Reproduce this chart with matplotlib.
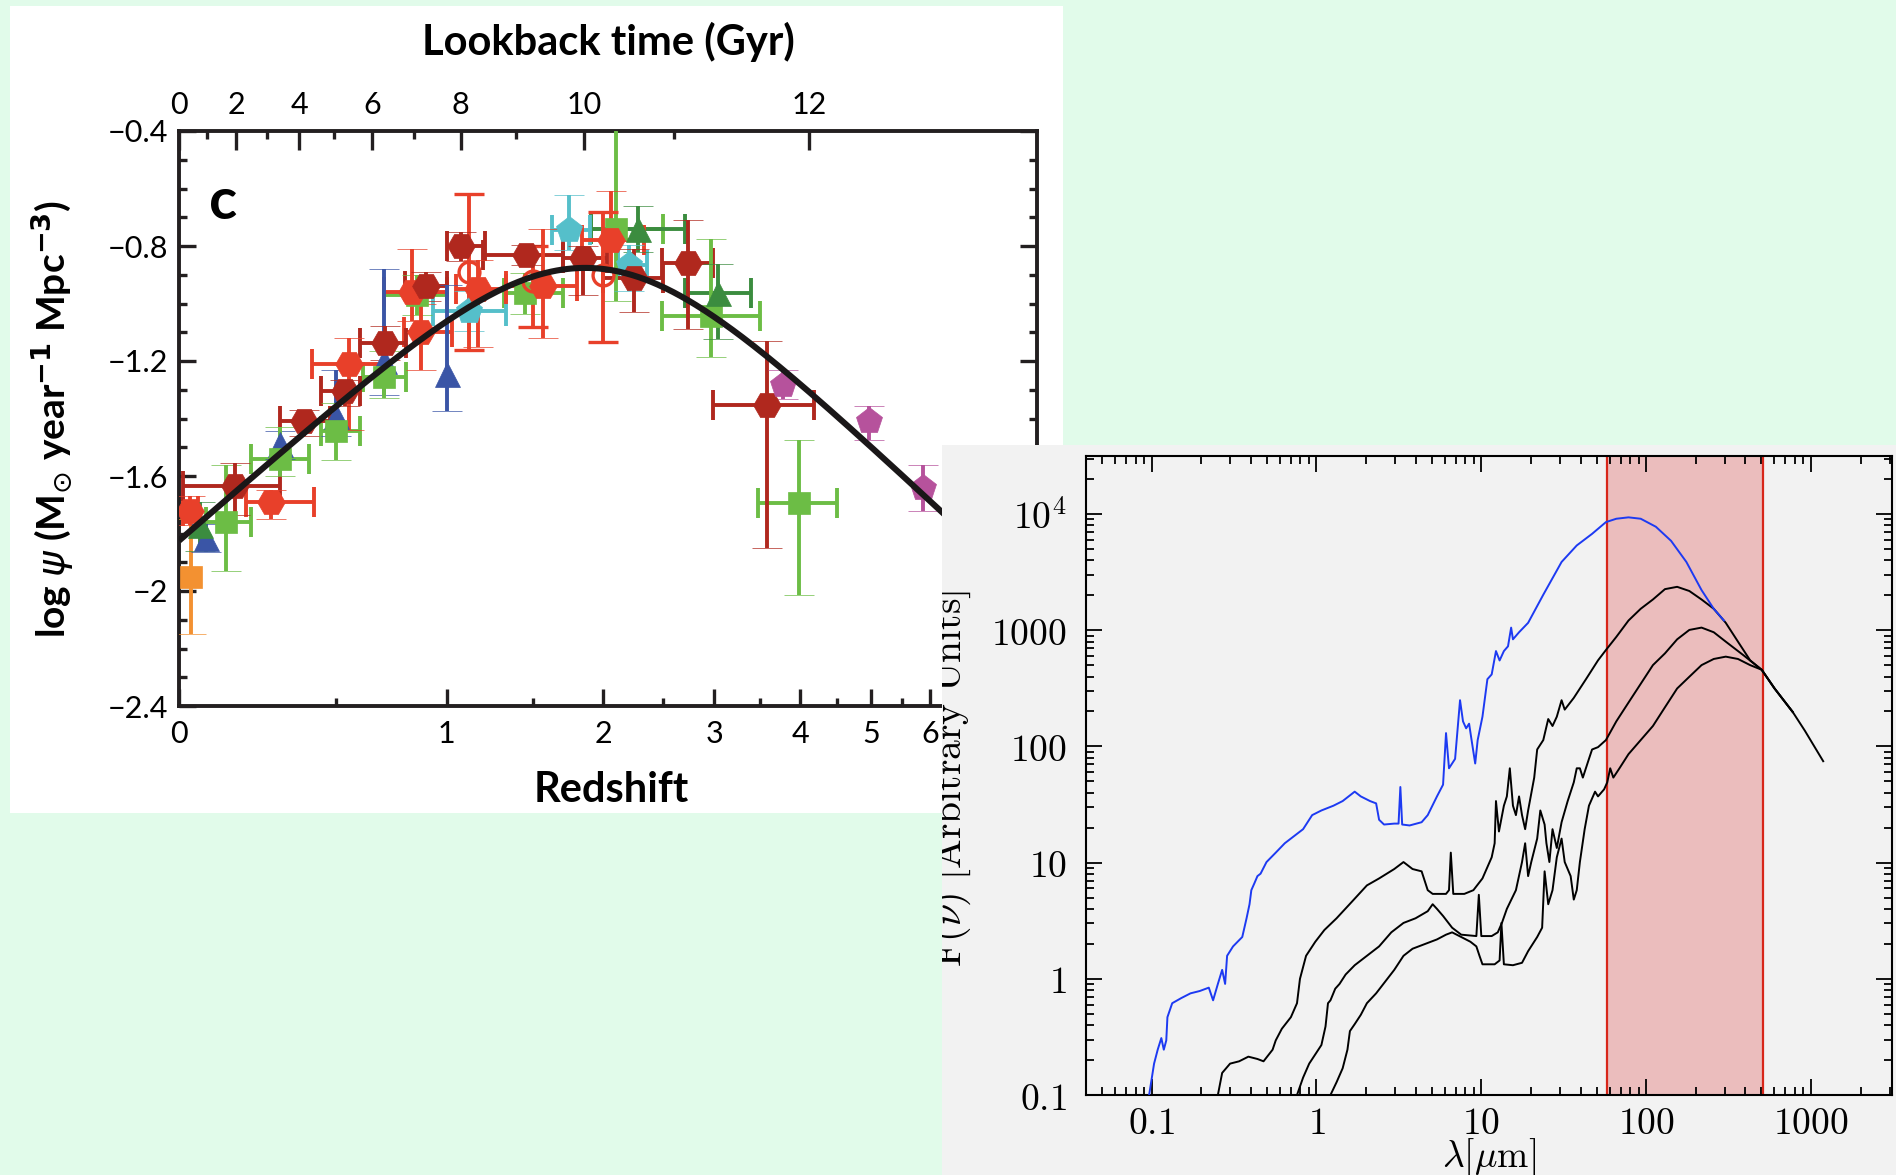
import numpy as np
import matplotlib
matplotlib.use("Agg")
import matplotlib.pyplot as plt
from matplotlib.patches import Rectangle
from matplotlib.ticker import FixedLocator, MultipleLocator, LogLocator, NullFormatter

plt.rcParams['font.family'] = ['Lato', 'DejaVu Sans']
plt.rcParams['mathtext.fontset'] = 'cm'

# ---------------------------------------------------------------------------
# Cosmic star-formation history: log psi (Msun / yr / Mpc^3) per survey
# z = bin centre, zlo/zhi = bin edges, up/dn = asymmetric errors in dex
# ---------------------------------------------------------------------------
red_z = [0.03, 0.27, 0.555, 0.83, 0.87, 1.17, 1.57, 2.06]
red_zlo = [0.01, 0.19, 0.41, 0.70, 0.79, 1.05, 1.33, 1.84]
red_zhi = [0.05, 0.42, 0.71, 1.00, 1.03, 1.33, 1.80, 2.33]
red_psi = [-1.72, -1.69, -1.21, -0.96, -1.10, -0.95, -0.94, -0.78]
red_up = [0.05, 0.04, 0.09, 0.15, 0.10, 0.10, 0.20, 0.17]
red_dn = [0.05, 0.06, 0.23, 0.10, 0.13, 0.20, 0.18, 0.10]

red_open_z = [1.12, 1.50, 2.00]
red_open_psi = [-0.89, -0.92, -0.90]
red_open_up = [0.27, 0.12, 0.22]
red_open_dn = [0.27, 0.16, 0.235]

dkred_z = [0.155, 0.384, 0.536, 0.703, 0.897, 1.078, 1.459, 1.848, 2.25, 2.738, 3.58]
dkred_zlo = [0.01, 0.30, 0.445, 0.60, 0.795, 1.00, 1.20, 1.70, 2.00, 2.49, 2.99]
dkred_zhi = [0.30, 0.477, 0.60, 0.80, 1.00, 1.21, 1.70, 2.03, 2.50, 2.99, 4.18]
dkred_psi = [-1.636, -1.41, -1.306, -1.137, -0.94, -0.801, -0.83, -0.841, -0.911, -0.859, -1.352]
dkred_up = [0.08, 0.04, 0.04, 0.06, 0.05, 0.05, 0.035, 0.04, 0.10, 0.15, 0.22]
dkred_dn = [0.10, 0.05, 0.05, 0.06, 0.05, 0.05, 0.035, 0.13, 0.12, 0.23, 0.50]

green_z = [0.13, 0.30, 0.50, 0.70, 0.85, 1.45, 2.10, 2.97, 3.98]
green_zlo = [0.073, 0.206, 0.445, 0.61, 0.70, 1.32, 1.91, 2.49, 3.48]
green_zhi = [0.206, 0.40, 0.60, 0.80, 1.00, 1.70, 2.50, 3.50, 4.50]
green_psi = [-1.76, -1.54, -1.445, -1.254, -0.97, -0.965, -0.74, -1.045, -1.694]
green_up = [0.20, 0.11, 0.10, 0.09, 0.07, 0.07, 0.40, 0.27, 0.22]
green_dn = [0.17, 0.06, 0.10, 0.075, 0.07, 0.07, 0.25, 0.14, 0.32]

dkgreen_z = [0.055, 2.28, 3.04]
dkgreen_zlo = [0.055, 1.91, 2.71]
dkgreen_zhi = [0.055, 2.71, 3.40]
dkgreen_psi = [-1.77, -0.74, -0.963]
dkgreen_up = [0.08, 0.08, 0.10]
dkgreen_dn = [0.09, 0.08, 0.16]

blue_z = [0.073, 0.30, 0.50, 0.70, 1.00]
blue_psi = [-1.816, -1.49, -1.39, -1.20, -1.244]
blue_up = [0.05, 0.045, 0.16, 0.32, 0.31]
blue_dn = [0.05, 0.05, 0.07, 0.12, 0.13]

cyan_z = [1.12, 1.748, 2.21]
cyan_zlo = [0.93, 1.63, 2.12]
cyan_zhi = [1.33, 1.90, 2.36]
cyan_psi = [-1.027, -0.743, -0.865]
cyan_up = [0.07, 0.12, 0.07]
cyan_dn = [0.07, 0.07, 0.09]

mag_z = [3.78, 4.97, 5.87]
mag_psi = [-1.282, -1.41, -1.642]
mag_up = [0.05, 0.055, 0.08]
mag_dn = [0.05, 0.065, 0.08]

orange_z = [0.032]
orange_psi = [-1.95]
orange_up = [0.20]
orange_dn = [0.20]

# Best-fit double power law psi(z) = a (1+z)^b / (1 + ((1+z)/c)^d)
fit_a, fit_b, fit_c, fit_d = 0.015, 2.7, 2.9, 5.6

# Flat LCDM used for the lookback-time axis
H0, Om = 70.0, 0.3
lookback_major = [0, 2, 4, 6, 8, 10, 12]
lookback_minor = [1, 3, 5, 7, 9, 11, 13]

redshift_major = [0, 1, 2, 3, 4, 5, 6]
redshift_minor = [0.5, 1.5, 2.5, 3.5, 4.5, 5.5]
psi_ticks = [-0.4, -0.8, -1.2, -1.6, -2.0, -2.4]
psi_ticklabels = ['\u22120.4', '\u22120.8', '\u22121.2', '\u22121.6', '\u22122', '\u22122.4']

# ---------------------------------------------------------------------------
# Template SEDs: log10(lambda / micron), log10(F_nu)
# ---------------------------------------------------------------------------
sed_blue_loglam = [-1.015, -0.985, -0.963, -0.941, -0.926, -0.911, -0.904, -0.875, -0.819, -0.764,
                   -0.708, -0.653, -0.627, -0.598, -0.572, -0.554, -0.542, -0.506, -0.450, -0.424,
                   -0.406, -0.395, -0.376, -0.358, -0.339, -0.303, -0.247, -0.192, -0.137, -0.081,
                   -0.026, 0.030, 0.103, 0.159, 0.214, 0.232, 0.269, 0.325, 0.362, 0.380,
                   0.410, 0.472, 0.498, 0.509, 0.520, 0.565, 0.638, 0.675, 0.731, 0.768,
                   0.786, 0.804, 0.841, 0.871, 0.889, 0.908, 0.926, 0.941, 0.963, 0.978,
                   1.007, 1.037, 1.063, 1.089, 1.111, 1.137, 1.162, 1.181, 1.192, 1.229,
                   1.284, 1.376, 1.487, 1.579, 1.672, 1.756, 1.819, 1.893, 1.967, 2.059,
                   2.151, 2.244, 2.336, 2.410, 2.472]
sed_blue_logf = [-1.0, -0.73, -0.61, -0.51, -0.61, -0.53, -0.33, -0.21, -0.165, -0.125,
                 -0.105, -0.076, -0.185, -0.044, 0.077, -0.044, 0.198, 0.279, 0.36, 0.521,
                 0.642, 0.763, 0.824, 0.884, 0.905, 1.005, 1.086, 1.167, 1.227, 1.288,
                 1.409, 1.449, 1.49, 1.53, 1.591, 1.611, 1.57, 1.53, 1.51, 1.369,
                 1.328, 1.336, 1.336, 1.651, 1.328, 1.32, 1.348, 1.409, 1.57, 1.671,
                 2.115, 1.812, 1.893, 2.398, 2.216, 2.156, 2.196, 2.055, 1.853, 2.055,
                 2.256, 2.579, 2.62, 2.821, 2.74, 2.821, 2.862, 3.023, 2.922, 2.983,
                 3.064, 3.306, 3.588, 3.730, 3.830, 3.931, 3.960, 3.972, 3.960, 3.891,
                 3.770, 3.588, 3.346, 3.185, 3.084]

sed_a_loglam = [-0.598, -0.572, -0.524, -0.469, -0.413, -0.358, -0.321, -0.266, -0.247, -0.210,
                -0.155, -0.118, -0.100, -0.063, -0.007, 0.048, 0.122, 0.214, 0.306, 0.380,
                0.472, 0.528, 0.583, 0.638, 0.675, 0.705, 0.786, 0.804, 0.815, 0.830,
                0.897, 0.952, 1.007, 1.063, 1.081, 1.089, 1.107, 1.137, 1.155, 1.173,
                1.192, 1.210, 1.229, 1.247, 1.266, 1.284, 1.321, 1.339, 1.376, 1.406,
                1.432, 1.458, 1.487, 1.506, 1.561, 1.635, 1.708, 1.756, 1.819, 1.893,
                1.967, 2.041, 2.114, 2.188, 2.262, 2.336, 2.410, 2.483, 2.557, 2.631,
                2.701, 2.779, 2.889, 2.963, 3.074]
sed_a_logf = [-1.0, -0.81, -0.73, -0.71, -0.67, -0.69, -0.71, -0.61, -0.53, -0.43,
              -0.33, -0.21, 0.0, 0.198, 0.319, 0.42, 0.521, 0.662, 0.804, 0.864,
              0.945, 1.005, 0.945, 0.925, 0.763, 0.731, 0.731, 0.763, 1.086, 0.731,
              0.731, 0.763, 0.864, 1.046, 1.167, 1.53, 1.268, 1.49, 1.57, 1.812,
              1.49, 1.409, 1.57, 1.409, 1.288, 1.449, 1.732, 1.974, 2.055, 2.236,
              2.176, 2.256, 2.398, 2.317, 2.418, 2.579, 2.741, 2.830, 2.943, 3.084,
              3.185, 3.265, 3.354, 3.374, 3.338, 3.265, 3.185, 3.064, 2.902, 2.741,
              2.660, 2.499, 2.297, 2.135, 1.873]

sed_b_loglam = [-0.118, -0.081, -0.044, -0.007, 0.030, 0.055, 0.070, 0.085, 0.114, 0.140,
                0.177, 0.232, 0.306, 0.380, 0.454, 0.528, 0.601, 0.675, 0.705, 0.731,
                0.768, 0.823, 0.878, 0.970, 0.985, 1.000, 1.063, 1.100, 1.125, 1.155,
                1.210, 1.247, 1.266, 1.284, 1.303, 1.339, 1.358, 1.384, 1.395, 1.413,
                1.432, 1.458, 1.487, 1.524, 1.561, 1.579, 1.598, 1.616, 1.653, 1.672,
                1.708, 1.756, 1.819, 1.893, 1.967, 2.041, 2.114, 2.188, 2.262, 2.336,
                2.410, 2.483, 2.594, 2.701, 2.779, 2.889]
sed_b_logf = [-1.0, -0.85, -0.73, -0.65, -0.57, -0.41, -0.21, -0.185, -0.085, -0.044,
              0.037, 0.117, 0.198, 0.279, 0.40, 0.481, 0.521, 0.582, 0.642, 0.602,
              0.541, 0.44, 0.380, 0.368, 0.723, 0.368, 0.368, 0.40, 0.481, 0.602,
              0.763, 1.005, 1.167, 0.884, 1.005, 1.207, 1.449, 1.328, 1.167, 1.005,
              1.288, 1.126, 1.348, 1.53, 1.691, 1.812, 1.812, 1.732, 1.893, 1.974,
              1.994, 2.055, 2.216, 2.378, 2.539, 2.700, 2.801, 2.922, 3.003, 3.023,
              2.983, 2.902, 2.781, 2.660, 2.499, 2.297]

sed_c_loglam = [0.085, 0.122, 0.159, 0.188, 0.203, 0.232, 0.269, 0.306, 0.362, 0.417,
                0.472, 0.528, 0.583, 0.657, 0.731, 0.786, 0.823, 0.878, 0.934, 0.970,
                0.989, 1.007, 1.081, 1.111, 1.122, 1.137, 1.192, 1.247, 1.284, 1.339,
                1.369, 1.384, 1.406, 1.432, 1.458, 1.487, 1.506, 1.542, 1.561, 1.579,
                1.598, 1.627, 1.653, 1.690, 1.708, 1.745, 1.764, 1.782, 1.801, 1.838,
                1.893, 1.967, 2.041, 2.114, 2.188, 2.262, 2.336, 2.410, 2.483, 2.557,
                2.631, 2.701, 2.779, 2.889]
sed_c_logf = [-1.0, -0.89, -0.77, -0.61, -0.45, -0.39, -0.31, -0.21, -0.125, -0.024,
              0.077, 0.198, 0.259, 0.299, 0.339, 0.380, 0.40, 0.36, 0.319, 0.279,
              0.198, 0.125, 0.125, 0.158, 0.481, 0.125, 0.117, 0.138, 0.238, 0.36,
              0.44, 0.925, 0.642, 0.763, 1.046, 1.207, 1.005, 0.884, 0.682, 0.763,
              1.005, 1.288, 1.49, 1.611, 1.57, 1.631, 1.691, 1.812, 1.732, 1.812,
              1.934, 2.055, 2.176, 2.337, 2.499, 2.600, 2.700, 2.753, 2.773, 2.753,
              2.700, 2.660, 2.499, 2.297]

# Far-infrared window shaded on the SED panel (micron)
band_lo, band_hi = 57.5, 510.0

sed_xticks = [0.1, 1, 10, 100, 1000]
sed_xticklabels = ['$0.1$', '$1$', '$10$', '$100$', '$1000$']
sed_yticks = [0.1, 1, 10, 100, 1000, 1e4]
sed_yticklabels = ['$0.1$', '$1$', '$10$', '$100$', '$1000$', '$10^4$']

# ---------------------------------------------------------------------------
W, H = 1896, 1175
fig = plt.figure(figsize=(W / 100, H / 100), dpi=100, facecolor='#e1fbea')


def box(x0, y0, x1, y1):
    return [x0 / W, 1 - y1 / H, (x1 - x0) / W, (y1 - y0) / H]


# white card behind the star-formation panel
fig.add_artist(Rectangle((10 / W, 1 - 813 / H), (1063 - 10) / W, (813 - 6) / H,
                         transform=fig.transFigure, facecolor='white', edgecolor='none', zorder=-5))

ink = '#231f20'
ax = fig.add_axes(box(179, 131, 1037, 706))
ax.set_zorder(1)
ax.set_facecolor('white')
ax.set_xlim(0, 0.965)
ax.set_ylim(-2.4, -0.4)

EW = 2.8    # error-bar line width (pt)
CAP = 11    # cap half-length (pt)


def u_of(z):
    return np.log10(1 + np.asarray(z, dtype=float))


def draw_series(z, psi, up, dn, color, marker, zlo=None, zhi=None, hollow=False, ms=19):
    u = u_of(z)
    psi = np.asarray(psi)
    if zlo is not None:
        lo = u - u_of(zlo)
        hi = u_of(zhi) - u
        m = (lo + hi) > 1e-6
        if m.any():
            ax.errorbar(u[m], psi[m], xerr=[lo[m], hi[m]], fmt='none', ecolor=color,
                        elinewidth=EW, capsize=CAP, capthick=EW, zorder=2)
    ax.errorbar(u, psi, yerr=[dn, up], fmt=marker, color=color, ms=ms,
                mec=color, mfc='none' if hollow else color, mew=2.4 if hollow else 0.5,
                elinewidth=EW, capsize=CAP, capthick=EW, zorder=3)


draw_series(orange_z, orange_psi, orange_up, orange_dn, '#f39131', 's', ms=16)
draw_series(blue_z, blue_psi, blue_up, blue_dn, '#3a55a6', '^', ms=18)
draw_series(green_z, green_psi, green_up, green_dn, '#6cbd45', 's', green_zlo, green_zhi, ms=16)
draw_series(dkgreen_z, dkgreen_psi, dkgreen_up, dkgreen_dn, '#3b8c3f', '^', dkgreen_zlo, dkgreen_zhi, ms=18)
draw_series(cyan_z, cyan_psi, cyan_up, cyan_dn, '#55bfca', 'p', cyan_zlo, cyan_zhi, ms=20)
draw_series(red_open_z, red_open_psi, red_open_up, red_open_dn, '#e8402a', 'o', hollow=True, ms=15)
draw_series(red_z, red_psi, red_up, red_dn, '#e8402a', 'H', red_zlo, red_zhi, ms=20)
draw_series(dkred_z, dkred_psi, dkred_up, dkred_dn, '#b0281e', 'H', dkred_zlo, dkred_zhi, ms=20)
draw_series(mag_z, mag_psi, mag_up, mag_dn, '#b6529c', 'p', ms=20)

zfit = np.linspace(0, 9, 500)
psi_fit = fit_a * (1 + zfit) ** fit_b / (1 + ((1 + zfit) / fit_c) ** fit_d)
ax.plot(u_of(zfit), np.log10(psi_fit), color='#1a1718', lw=4.4, zorder=5, solid_capstyle='butt')

# bottom redshift axis on a log(1+z) scale
ax.xaxis.set_major_locator(FixedLocator(u_of(redshift_major)))
ax.xaxis.set_minor_locator(FixedLocator(u_of(redshift_minor)))
ax.set_xticklabels([str(v) for v in redshift_major])
ax.yaxis.set_major_locator(FixedLocator(psi_ticks))
ax.yaxis.set_minor_locator(MultipleLocator(0.1))
ax.set_yticklabels(psi_ticklabels)
ax.tick_params(which='both', direction='in', right=True, top=False, width=2.4, color=ink,
               labelsize=22, labelcolor='black')
ax.tick_params(which='major', length=12)
ax.tick_params(which='minor', length=6)
ax.tick_params(axis='y', pad=8)
ax.tick_params(axis='x', pad=10)
for s in ax.spines.values():
    s.set_linewidth(2.8)
    s.set_color(ink)

# top lookback-time axis
zg = np.linspace(0, 30, 30001)
integrand = 1.0 / ((1 + zg) * np.sqrt(Om * (1 + zg) ** 3 + 1 - Om))
tl = (977.8 / H0) * np.concatenate([[0], np.cumsum(0.5 * (integrand[1:] + integrand[:-1]) * np.diff(zg))])
axt = ax.twiny()
axt.set_zorder(1)
axt.set_xlim(ax.get_xlim())
axt.xaxis.set_major_locator(FixedLocator(u_of(np.interp(lookback_major, tl, zg))))
axt.xaxis.set_minor_locator(FixedLocator(u_of(np.interp(lookback_minor, tl, zg))))
axt.set_xticklabels([str(v) for v in lookback_major])
axt.tick_params(which='both', direction='in', width=2.4, color=ink, labelsize=22, pad=9)
axt.tick_params(which='major', length=14)
axt.tick_params(which='minor', length=6)
for s in axt.spines.values():
    s.set_visible(False)

ax.text(0.5, 1.155, 'Lookback time (Gyr)', transform=ax.transAxes, ha='center', va='center',
        fontsize=30, fontweight='bold')
ax.text(0.5035, -0.146, 'Redshift', transform=ax.transAxes, ha='center', va='center',
        fontsize=30, fontweight='bold')
ax.text(-0.148, 0.5, r'log $\psi$ (M$_{\odot}$ year$^{\mathbf{-1}}$ Mpc$^{\mathbf{-3}}$)',
        transform=ax.transAxes, ha='center', va='center', rotation=90, rotation_mode='anchor',
        fontsize=28, fontweight='bold', math_fontfamily='dejavusans')
ax.text(0.052, 0.875, 'c', transform=ax.transAxes, ha='center', va='center',
        fontsize=42, fontweight='bold')

# ---------------------------------------------------------------------------
# SED panel on a grey card overlapping the lower right
panel = fig.add_axes(box(942, 445, 1896, 1175))
panel.set_zorder(5)
panel.set_facecolor('#f2f2f2')
panel.set_xlim(0, 1)
panel.set_ylim(0, 1)
panel.set_xticks([])
panel.set_yticks([])
for s in panel.spines.values():
    s.set_visible(False)
panel.text(0.0094, 0.544, r'$\mathrm{F}(\nu)\ [\mathrm{Arbitrary\ Units}]$', transform=panel.transAxes,
           ha='center', va='center', rotation=90, fontsize=28.5, clip_on=True)

ax2 = fig.add_axes(box(1086, 456, 1892, 1095))
ax2.set_zorder(6)
ax2.set_facecolor('#f2f2f2')
ax2.set_xscale('log')
ax2.set_yscale('log')
ax2.set_xlim(0.04, 3100)
ax2.set_ylim(0.1, 10 ** 4.5)
ax2.axvspan(band_lo, band_hi, facecolor='#ebbdbd', edgecolor='none', zorder=1)
ax2.axvline(band_lo, color='#d8261a', lw=1.6, zorder=2)
ax2.axvline(band_hi, color='#d8261a', lw=1.6, zorder=2)

for lam, f, c in [(sed_a_loglam, sed_a_logf, 'black'),
                  (sed_b_loglam, sed_b_logf, 'black'),
                  (sed_c_loglam, sed_c_logf, 'black'),
                  (sed_blue_loglam, sed_blue_logf, '#1d3af2')]:
    ax2.plot(10 ** np.asarray(lam), 10 ** np.asarray(f), color=c, lw=1.4, zorder=3)

ax2.xaxis.set_major_locator(FixedLocator(sed_xticks))
ax2.set_xticklabels(sed_xticklabels)
ax2.yaxis.set_major_locator(FixedLocator(sed_yticks))
ax2.set_yticklabels(sed_yticklabels)
ax2.xaxis.set_minor_locator(LogLocator(base=10, subs=np.arange(2, 10)))
ax2.yaxis.set_minor_locator(LogLocator(base=10, subs=np.arange(2, 10)))
ax2.xaxis.set_minor_formatter(NullFormatter())
ax2.yaxis.set_minor_formatter(NullFormatter())
ax2.tick_params(which='both', direction='in', top=True, right=True, width=1.3, color='black',
                labelsize=27)
ax2.tick_params(which='major', length=11.5)
ax2.tick_params(which='minor', length=6)
ax2.tick_params(axis='y', pad=14)
ax2.tick_params(axis='x', pad=7)
for s in ax2.spines.values():
    s.set_linewidth(1.5)
    s.set_color('black')
ax2.text(0.5, -0.098, r'$\lambda[\mu\mathrm{m}]$', transform=ax2.transAxes, ha='center', va='center',
         fontsize=27)

fig.savefig('out.png', dpi=100, facecolor=fig.get_facecolor())
